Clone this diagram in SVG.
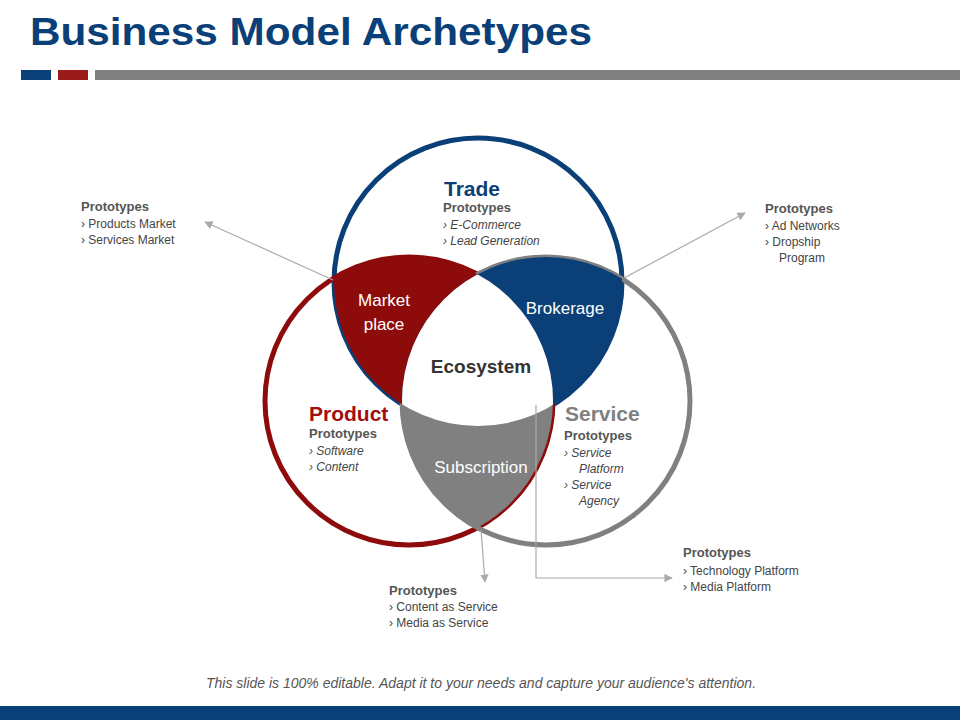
<svg xmlns="http://www.w3.org/2000/svg" width="960" height="720" viewBox="0 0 960 720">
<defs>
<style>
.t{font-family:"Liberation Sans",Arial,sans-serif}
.h{font-weight:bold;font-size:13px;fill:#555}
.li{font-size:12px;fill:#444}
.it{font-style:italic}
.con{stroke:#aaa;stroke-width:1.2;fill:none}
</style>
<marker id="ar" viewBox="0 0 10 10" refX="9" refY="5" markerWidth="7" markerHeight="7" orient="auto"><path d="M0,0L10,5L0,10z" fill="#aaa"/></marker>
<clipPath id="cT"><circle cx="478" cy="282" r="144"/></clipPath>
<clipPath id="cP"><circle cx="409" cy="401" r="144"/></clipPath>
<clipPath id="cS"><circle cx="546" cy="401" r="144"/></clipPath>
</defs>
<rect width="960" height="720" fill="#fff"/>
<text x="30" y="45" class="t" font-size="38" font-weight="bold" fill="#0B3F78" textLength="562" lengthAdjust="spacingAndGlyphs">Business Model Archetypes</text>
<rect x="21" y="70" width="30" height="10" fill="#0B3F78"/>
<rect x="58" y="70" width="30" height="10" fill="#9B1B1B"/>
<rect x="95" y="70" width="865" height="10" fill="#808080"/>

<g id="trade"><circle cx="478" cy="282" r="144" fill="none" stroke="#0B3F78" stroke-width="5"/></g>
<g id="product"><circle cx="409" cy="401" r="144" fill="none" stroke="#8E0B0B" stroke-width="5"/></g>
<g id="service"><circle cx="546" cy="401" r="144" fill="none" stroke="#808080" stroke-width="5"/></g>
<g id="lenses">
<g clip-path="url(#cT)"><circle cx="409" cy="401" r="144" fill="#8E0B0B"/></g>
<g clip-path="url(#cT)"><circle cx="546" cy="401" r="144" fill="#0B3F78"/></g>
<g clip-path="url(#cP)"><circle cx="546" cy="401" r="144" fill="#808080"/></g>
<g clip-path="url(#cT)"><g clip-path="url(#cP)"><circle cx="546" cy="401" r="144" fill="#fff"/></g></g>
</g>
<g id="texts">
<text x="444" y="196" class="t" font-size="21" font-weight="bold" fill="#0B3F78">Trade</text>
<text x="443" y="212" class="t h">Prototypes</text>
<text x="443" y="229" class="t li it">›  E-Commerce</text>
<text x="443" y="245" class="t li it">›  Lead Generation</text>
<text x="309" y="421" class="t" font-size="21" font-weight="bold" fill="#A01010">Product</text>
<text x="309" y="438" class="t h">Prototypes</text>
<text x="309" y="455" class="t li it">›  Software</text>
<text x="309" y="471" class="t li it">›  Content</text>
<text x="565" y="421" class="t" font-size="21" font-weight="bold" fill="#808080">Service</text>
<text x="564" y="440" class="t h">Prototypes</text>
<text x="564" y="457" class="t li it">›  Service</text>
<text x="579" y="473" class="t li it">Platform</text>
<text x="564" y="489" class="t li it">›  Service</text>
<text x="579" y="505" class="t li it">Agency</text>
</g>
<g id="labels" class="t" font-size="17" fill="#fff" text-anchor="middle">
<text x="384" y="306">Market</text><text x="384" y="330">place</text>
<text x="565" y="314">Brokerage</text>
<text x="481" y="473">Subscription</text>
<text x="481" y="373" font-weight="bold" font-size="19" fill="#333">Ecosystem</text>
</g>
<g id="connectors">
<line x1="333" y1="280" x2="205" y2="222" class="con" marker-end="url(#ar)"/>
<line x1="624" y1="278" x2="745" y2="213" class="con" marker-end="url(#ar)"/>
<line x1="481" y1="530" x2="485" y2="582" class="con" marker-end="url(#ar)"/>
<polyline points="536,405 536,578 672,578" class="con" marker-end="url(#ar)"/>
</g>
<g id="pl" class="t"><text x="81" y="211" class="h">Prototypes</text>
<text x="81" y="228" class="li">›  Products Market</text><text x="81" y="244" class="li">›  Services Market</text></g>
<g id="pr" class="t"><text x="765" y="213" class="h">Prototypes</text>
<text x="765" y="230" class="li">›  Ad Networks</text><text x="765" y="246" class="li">›  Dropship</text><text x="779" y="262" class="li">Program</text></g>
<g id="pb" class="t"><text x="389" y="595" class="h">Prototypes</text>
<text x="389" y="611" class="li">›  Content as Service</text><text x="389" y="627" class="li">›  Media as Service</text></g>
<g id="pbr" class="t"><text x="683" y="557" class="h">Prototypes</text>
<text x="683" y="575" class="li">›  Technology Platform</text><text x="683" y="591" class="li">›  Media Platform</text></g>
<text x="481" y="688" class="t it" font-size="14" fill="#555" text-anchor="middle">This slide is 100% editable. Adapt it to your needs and capture your audience's attention.</text>
<rect x="0" y="706" width="960" height="14" fill="#0B3F78"/>
</svg>
